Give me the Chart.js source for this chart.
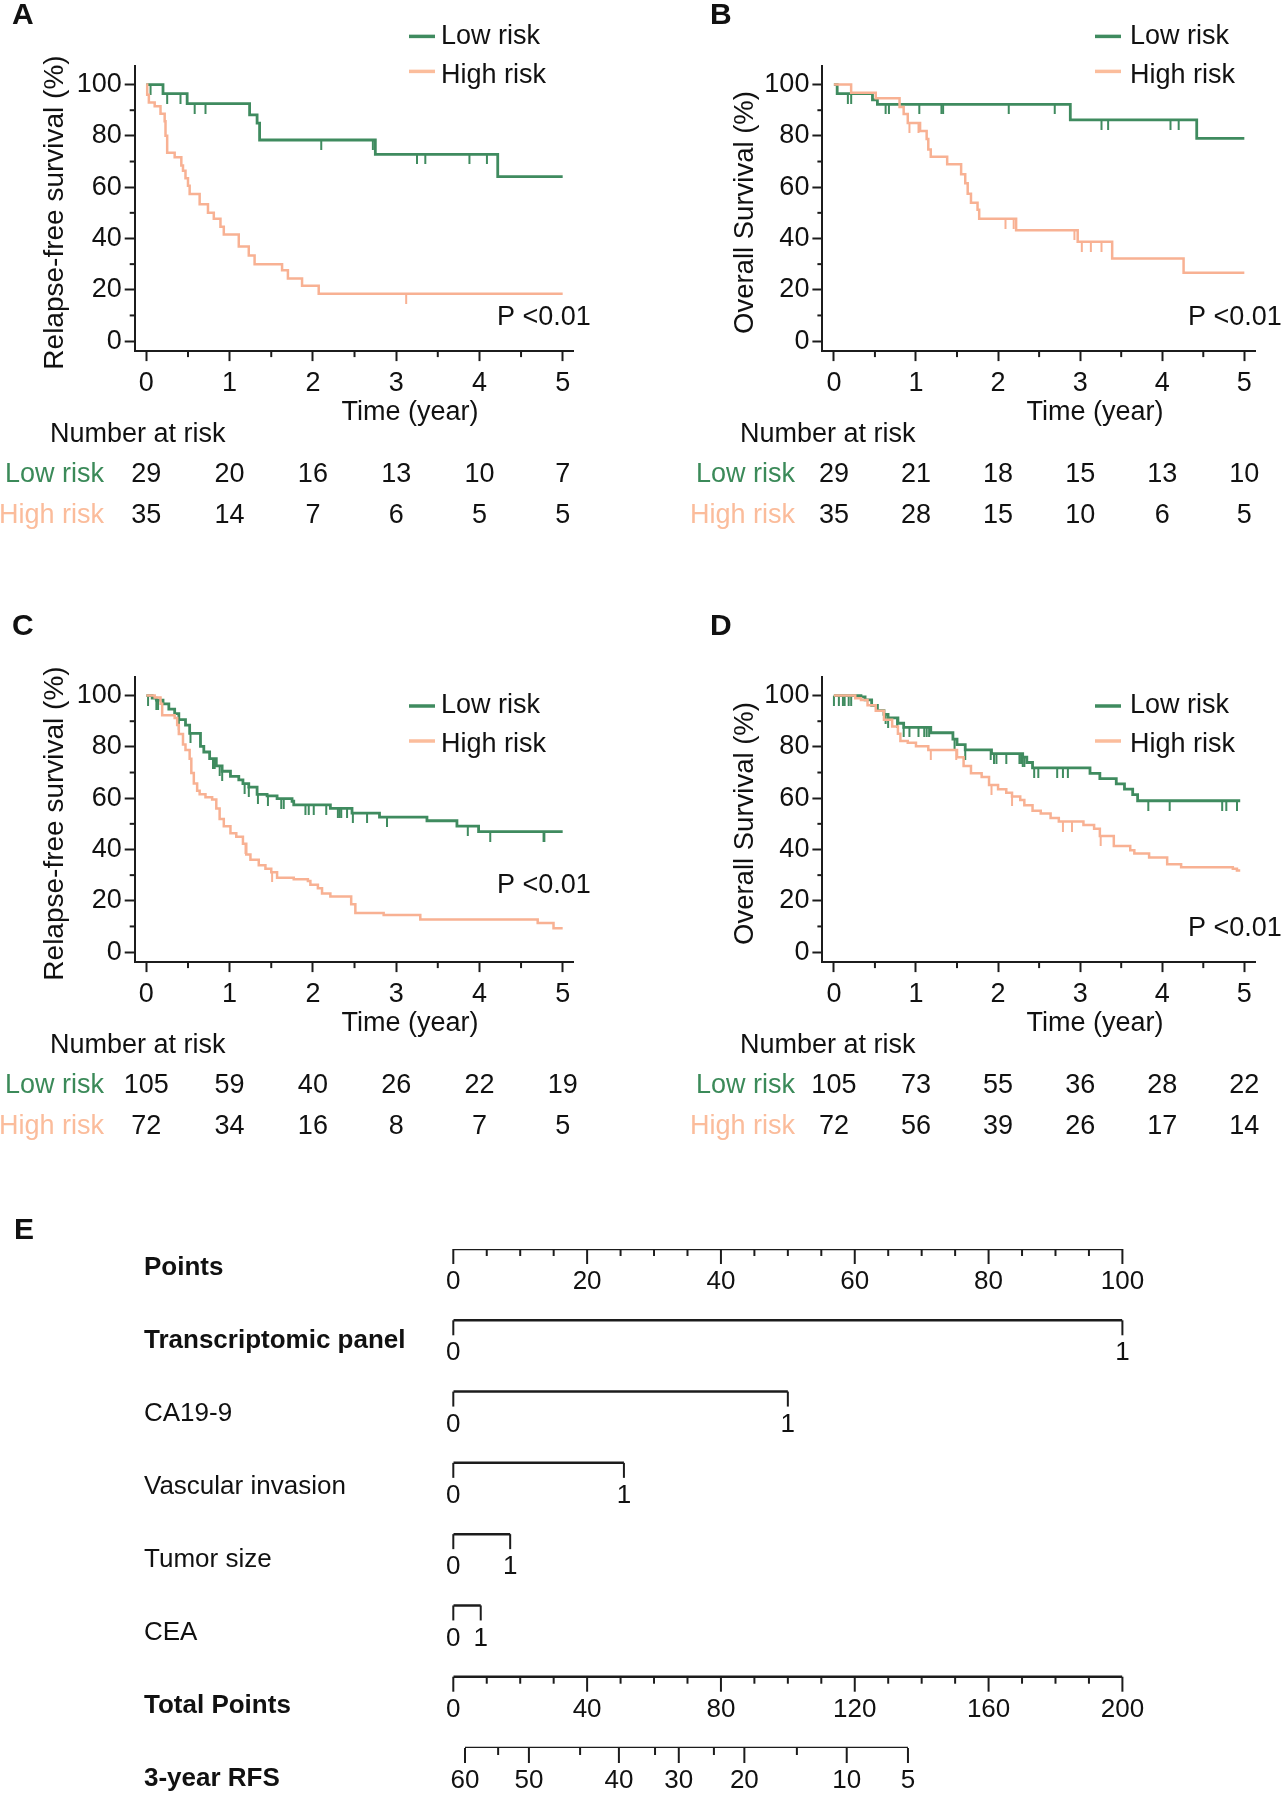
<!DOCTYPE html>
<html><head><meta charset="utf-8">
<script src="https://cdn.jsdelivr.net/npm/chart.js@4.4.1/dist/chart.umd.min.js"></script>
<style>
body{margin:0;background:#fff;width:1288px;height:1800px;position:relative;overflow:hidden}
canvas{position:absolute}
</style></head><body>
<canvas id="cA" width="640" height="611" style="left:0;top:0"></canvas>
<canvas id="cB" width="648" height="611" style="left:640px;top:0"></canvas>
<canvas id="cC" width="640" height="600" style="left:0;top:611px"></canvas>
<canvas id="cD" width="648" height="600" style="left:640px;top:611px"></canvas>
<canvas id="cE" width="1288" height="588" style="left:0;top:1212px"></canvas>
<script>
// ---------------- DATA ----------------
const xMajor = [0, 1, 2, 3, 4, 5];
const xMinor = [0.5, 1.5, 2.5, 3.5, 4.5];
const yMajor = [0, 20, 40, 60, 80, 100];
const yMinor = [10, 30, 50, 70, 90];
const riskTimes = [0, 1, 2, 3, 4, 5];
const seriesNames = ['Low risk', 'High risk'];

// Panel A: relapse-free survival
const aLowT  = [0, 0.2, 0.49, 1.24, 1.33, 1.36, 2.75, 4.22, 5.0];
const aLowS  = [100, 96.5, 92.6, 88.2, 85.0, 78.4, 72.8, 64.1, 64.1];
const aLowC  = [0.05, 0.25, 0.41, 0.58, 0.71, 2.1, 2.72, 3.25, 3.35, 3.88, 4.09];
const aHighT = [0, 0.01, 0.03, 0.1, 0.17, 0.22, 0.23, 0.25, 0.34, 0.42, 0.44, 0.47, 0.5, 0.52, 0.64, 0.74, 0.81, 0.89, 0.93, 1.11, 1.23, 1.3, 1.63, 1.7, 1.87, 2.07, 5.0];
const aHighS = [100, 96, 93, 91.5, 88.6, 85.7, 80, 73.4, 71.7, 68.5, 66.4, 63.5, 60.6, 57.3, 53.3, 50, 47.7, 44.6, 41.6, 36.9, 33.4, 30, 27.6, 24.4, 21.6, 18.5, 18.5];
const aHighC = [3.12];
const aRiskLow  = [29, 20, 16, 13, 10, 7];
const aRiskHigh = [35, 14, 7, 6, 5, 5];

// Panel B: overall survival
const bLowT  = [0, 0.04, 0.47, 0.53, 2.88, 4.42, 5.0];
const bLowS  = [100, 96.5, 94.0, 92.3, 86.2, 79.0, 79.0];
const bLowC  = [0.17, 0.21, 0.63, 0.67, 1.04, 1.31, 1.33, 2.13, 2.69, 3.26, 3.34, 4.1, 4.2];
const bHighT = [0, 0.21, 0.51, 0.8, 0.85, 0.9, 1.05, 1.13, 1.15, 1.18, 1.38, 1.55, 1.6, 1.63, 1.67, 1.75, 1.77, 2.22, 2.97, 3.39, 4.26, 5.0];
const bHighS = [100, 96.8, 94.7, 91.3, 88.5, 85.0, 81.9, 78.8, 74.7, 71.9, 68.9, 65.0, 61.5, 57.4, 53.9, 51.2, 47.7, 43.2, 38.7, 32.2, 26.6, 26.6];
const bHighC = [0.92, 1.03, 2.09, 2.19, 2.93, 3.02, 3.13, 3.26];
const bRiskLow  = [29, 21, 18, 15, 13, 10];
const bRiskHigh = [35, 28, 15, 10, 6, 5];

// Panel C: relapse-free survival
const cLowT  = [0, 0.07, 0.12, 0.2, 0.27, 0.34, 0.39, 0.47, 0.52, 0.65, 0.69, 0.76, 0.84, 0.91, 1.01, 1.11, 1.16, 1.23, 1.33, 1.45, 1.57, 1.75, 1.77, 2.21, 2.47, 2.8, 3.37, 3.73, 3.99, 5.0];
const cLowS  = [100, 99, 98.2, 96.8, 94.7, 93, 90.6, 88.5, 85.3, 80.2, 78, 75.4, 72.6, 70.5, 68.5, 67.1, 65.7, 64.3, 61.5, 60.9, 59.8, 58.8, 57.4, 56, 54.2, 52.6, 51.2, 49.1, 47.0, 47.0];
const cLowC  = [0.02, 0.12, 0.14, 0.39, 0.53, 0.8, 0.82, 0.88, 0.91, 1.18, 1.23, 1.34, 1.46, 1.62, 1.65, 1.91, 1.95, 2.01, 2.16, 2.3, 2.32, 2.34, 2.41, 2.48, 2.65, 2.89, 3.86, 4.13, 4.77, 4.78];
const cHighT = [0, 0.1, 0.17, 0.19, 0.34, 0.37, 0.39, 0.44, 0.47, 0.52, 0.54, 0.57, 0.61, 0.64, 0.71, 0.79, 0.84, 0.88, 0.93, 1.01, 1.08, 1.16, 1.2, 1.25, 1.35, 1.43, 1.5, 1.57, 1.77, 1.94, 1.97, 2.06, 2.11, 2.21, 2.46, 2.51, 2.85, 3.29, 4.7, 4.89, 5.0];
const cHighS = [100, 99.2, 96.8, 92.3, 91.3, 88.5, 85.0, 80.9, 78.8, 75.4, 69.8, 65.7, 62.9, 61.5, 60.4, 59.5, 56.0, 51.9, 49.1, 46.3, 45.0, 42.2, 38.0, 36.0, 33.9, 32.5, 31.1, 29.0, 28.4, 27.7, 26.3, 24.9, 22.8, 21.7, 18.7, 15.2, 14.5, 12.7, 11.3, 9.3, 9.3];
const cHighC = [1.19, 1.51];
const cRiskLow  = [105, 59, 40, 26, 22, 19];
const cRiskHigh = [72, 34, 16, 8, 7, 5];

// Panel D: overall survival
const dLowT  = [0, 0.33, 0.38, 0.46, 0.53, 0.61, 0.66, 0.78, 0.85, 1.18, 1.45, 1.5, 1.6, 1.92, 2.3, 2.35, 2.42, 3.12, 3.24, 3.44, 3.54, 3.64, 3.7, 4.95];
const dLowS  = [100, 99.5, 98.3, 96.2, 94.1, 92.7, 91.3, 89.2, 87.6, 85.5, 83, 80.9, 78.8, 77.4, 76, 73.9, 71.8, 69.7, 67.6, 65.6, 63.5, 61.4, 59.0, 59.0];
const dLowC  = [0.0, 0.06, 0.11, 0.13, 0.18, 0.21, 0.63, 0.66, 0.77, 0.85, 0.92, 1.03, 1.1, 1.13, 1.16, 1.47, 1.6, 1.91, 1.95, 1.98, 2.1, 2.26, 2.28, 2.3, 2.32, 2.44, 2.49, 2.72, 2.79, 2.85, 3.83, 4.09, 4.73, 4.78, 4.91];
const dHighT = [0, 0.26, 0.33, 0.41, 0.51, 0.61, 0.71, 0.78, 0.81, 0.9, 1.0, 1.15, 1.5, 1.58, 1.67, 1.8, 1.89, 2.0, 2.1, 2.17, 2.27, 2.32, 2.42, 2.52, 2.64, 2.74, 3.04, 3.17, 3.24, 3.41, 3.61, 3.66, 3.84, 4.06, 4.23, 4.86, 4.91, 4.95];
const dHighS = [100, 99, 98.3, 96.2, 94.1, 90.6, 87.9, 85.1, 82.3, 81.6, 80.2, 78.8, 76, 72.5, 69.7, 68.3, 65.1, 63.5, 62.1, 60.7, 59.3, 57.2, 55.1, 54, 52.3, 50.9, 49.5, 48.1, 45.3, 41.4, 39.7, 38.4, 36.9, 34.2, 33.1, 32.5, 31.8, 31.8];
const dHighC = [1.18, 1.49, 1.92, 2.17, 2.79, 2.9, 3.25];
const dRiskLow  = [105, 73, 55, 36, 28, 22];
const dRiskHigh = [72, 56, 39, 26, 17, 14];

// Panel E: nomogram
const nomoVars     = ['Transcriptomic panel', 'CA19-9', 'Vascular invasion', 'Tumor size', 'CEA'];
const nomoVarBold  = [true, false, false, false, false];
const nomoMaxPts   = [100, 50, 25.5, 8.5, 4.1];
const nomoLevels   = ['0', '1'];
const pointsMajor  = [0, 20, 40, 60, 80, 100];
const pointsMinor  = [5, 10, 15, 25, 30, 35, 45, 50, 55, 65, 70, 75, 85, 90, 95];
const totalMajor   = [0, 40, 80, 120, 160, 200];
const totalMinor   = [10, 20, 30, 50, 60, 70, 90, 100, 110, 130, 140, 150, 170, 180, 190];
const rfsLabels    = [60, 55, 50, 45, 40, 35, 30, 25, 20, 15, 10, 5];
const rfsTotalPts  = [3.5, 13.4, 22.6, 37.9, 49.5, 60.3, 67.4, 77.9, 87.0, 102.7, 117.6, 135.9];
const rfsMajor     = [60, 50, 40, 30, 20, 10, 5];

// ---------------- STYLE / LAYOUT ----------------
const FONT = '"Liberation Sans", Arial, Helvetica, sans-serif';
Chart.defaults.font.family = FONT;
const GREEN = '#3f8b5f', GREEN_TXT = '#3b8a59', SAL_LINE = '#f8b193', SAL_LEG = '#fbbd9c', SAL_TXT = '#fbbc9b', AX = '#1c1c1c', TXT = '#111';

const GL = {left:134.7, right:573.5, top:66.1, bottom:351.1, letterX:12, titleX:55, timeX:410, narX:50, rowR:104, legLineX:409, legTextX:441, pX:497};
const GR = {left:182.4, right:615, top:66.1, bottom:351.1, letterX:70, titleX:105, timeX:455, narX:100, rowR:155, legLineX:455, legTextX:490, pX:548};
const V = {letterY:16, titleY:212.5, timeY:412.5, narY:434.6, rowY:[475, 515.4]};

function stepXY(t, s) { return t.map((v, i) => ({x: v, y: s[i]})); }
function censXY(t, s, c) {
  return c.map(v => { let y = s[0]; for (let i = 0; i < t.length; i++) { if (t[i] <= v) y = s[i]; } return {x: v, y: y}; });
}
function censImg(color) {
  const c = document.createElement('canvas'); c.width = 4; c.height = 20;
  const g = c.getContext('2d'); g.strokeStyle = color; g.lineWidth = 2;
  g.beginPath(); g.moveTo(2, 10); g.lineTo(2, 20); g.stroke(); return c;
}

function km(id, P) {
  const el = document.getElementById(id), W = el.width, H = el.height, G = P.g;
  const decor = {id: 'decor', afterDraw(ch) {
    const c = ch.ctx, xs = ch.scales.x, ys = ch.scales.y;
    c.save();
    c.strokeStyle = AX; c.lineWidth = 2;
    xMinor.forEach(v => { const px = xs.getPixelForValue(v); c.beginPath(); c.moveTo(px, G.bottom); c.lineTo(px, G.bottom + 6); c.stroke(); });
    yMinor.forEach(v => { const py = ys.getPixelForValue(v); c.beginPath(); c.moveTo(G.left, py); c.lineTo(G.left - 5, py); c.stroke(); });
    c.fillStyle = TXT; c.textBaseline = 'middle';
    c.font = 'bold 30px ' + FONT; c.textAlign = 'left'; c.fillText(P.letter, G.letterX, V.letterY);
    c.save(); c.translate(G.titleX, V.titleY); c.rotate(-Math.PI / 2); c.textAlign = 'center';
    c.font = P.titleSize + 'px ' + FONT; c.fillText(P.ytitle, 0, 0); c.restore();
    c.font = '27px ' + FONT;
    c.textAlign = 'center'; c.fillText('Time (year)', G.timeX, V.timeY);
    c.textAlign = 'left'; c.fillText('Number at risk', G.narX, V.narY);
    c.fillText('P <0.01', G.pX, P.pY);
    // legend
    const legCols = [GREEN, SAL_LEG];
    seriesNames.forEach((n, i) => {
      const ly = P.legY[i];
      c.strokeStyle = legCols[i]; c.lineWidth = 3.5;
      c.beginPath(); c.moveTo(G.legLineX, ly); c.lineTo(G.legLineX + 26, ly); c.stroke();
      c.fillStyle = TXT; c.textAlign = 'left'; c.fillText(n, G.legTextX, ly + (i === 1 ? 4 : 0));
    });
    // number at risk
    c.textAlign = 'right';
    c.fillStyle = GREEN_TXT; c.fillText(seriesNames[0], G.rowR, V.rowY[0]);
    c.fillStyle = SAL_TXT; c.fillText(seriesNames[1], G.rowR, V.rowY[1]);
    c.fillStyle = TXT; c.textAlign = 'center';
    riskTimes.forEach((t, i) => {
      const px = xs.getPixelForValue(t);
      c.fillText(String(P.lowN[i]), px, V.rowY[0]);
      c.fillText(String(P.highN[i]), px, V.rowY[1]);
    });
    c.restore();
  }};
  new Chart(el, {
    type: 'line',
    data: {datasets: [
      {label: seriesNames[1], data: stepXY(P.highT, P.highS), stepped: true, borderColor: SAL_LINE, borderWidth: 2.5, pointRadius: 0, fill: false},
      {label: seriesNames[0], data: stepXY(P.lowT, P.lowS), stepped: true, borderColor: GREEN, borderWidth: 2.8, pointRadius: 0, fill: false},
      {label: 'cens-high', type: 'scatter', data: censXY(P.highT, P.highS, P.highC), pointStyle: censImg(SAL_LINE), pointRadius: 3, showLine: false},
      {label: 'cens-low', type: 'scatter', data: censXY(P.lowT, P.lowS, P.lowC), pointStyle: censImg(GREEN), pointRadius: 3, showLine: false}
    ]},
    options: {
      responsive: false, animation: false,
      layout: {padding: {left: 0, top: G.top, right: W - G.right, bottom: 0}},
      plugins: {legend: {display: false}, tooltip: {enabled: false}},
      scales: {
        x: {type: 'linear', min: -0.14, max: 5.13,
          afterBuildTicks: s => { s.ticks = xMajor.map(v => ({value: v})); },
          afterFit: s => { s.height = H - G.bottom; },
          ticks: {autoSkip: false, maxRotation: 0, padding: 6, color: TXT, font: {size: 27}},
          grid: {drawOnChartArea: false, tickLength: 10, tickWidth: 2, tickColor: AX},
          border: {display: true, color: AX, width: 2}},
        y: {type: 'linear', min: -3.9, max: 107.2,
          afterBuildTicks: s => { s.ticks = yMajor.map(v => ({value: v})); },
          afterFit: s => { s.width = G.left; },
          ticks: {padding: 3, color: TXT, font: {size: 27}},
          grid: {drawOnChartArea: false, tickLength: 10, tickWidth: 2, tickColor: AX},
          border: {display: true, color: AX, width: 2}}
      }
    },
    plugins: [decor]
  });
}

km('cA', {g: GL, letter: 'A', ytitle: 'Relapse-free survival (%)', titleSize: 28, pY: 318, legY: [36.4, 71.4],
  lowT: aLowT, lowS: aLowS, lowC: aLowC, highT: aHighT, highS: aHighS, highC: aHighC, lowN: aRiskLow, highN: aRiskHigh});
km('cB', {g: GR, letter: 'B', ytitle: 'Overall Survival (%)', titleSize: 27.5, pY: 318, legY: [36.4, 71.4],
  lowT: bLowT, lowS: bLowS, lowC: bLowC, highT: bHighT, highS: bHighS, highC: bHighC, lowN: bRiskLow, highN: bRiskHigh});
km('cC', {g: GL, letter: 'C', ytitle: 'Relapse-free survival (%)', titleSize: 28, pY: 274.7, legY: [95, 130],
  lowT: cLowT, lowS: cLowS, lowC: cLowC, highT: cHighT, highS: cHighS, highC: cHighC, lowN: cRiskLow, highN: cRiskHigh});
km('cD', {g: GR, letter: 'D', ytitle: 'Overall Survival (%)', titleSize: 27.5, pY: 317.6, legY: [95, 130],
  lowT: dLowT, lowS: dLowS, lowC: dLowC, highT: dHighT, highS: dHighS, highC: dHighC, lowN: dRiskLow, highN: dRiskHigh});

// ---------------- NOMOGRAM ----------------
(function () {
  const el = document.getElementById('cE'), W = el.width, H = el.height;
  const rowLabels = ['Points'].concat(nomoVars, ['Total Points', '3-year RFS']);
  const rowBold = [true].concat(nomoVarBold, [true, true]);
  const ds = [];
  const lineDs = (data, axis) => ({data: data, xAxisID: axis, borderColor: AX, borderWidth: 2.5, pointRadius: 0, fill: false});
  ds.push(lineDs([{x: pointsMajor[0], y: 0}, {x: pointsMajor[pointsMajor.length - 1], y: 0}], 'x'));
  nomoMaxPts.forEach((m, i) => ds.push(lineDs([{x: 0, y: i + 1}, {x: m, y: i + 1}], 'x')));
  const rT = nomoVars.length + 1, rR = nomoVars.length + 2;
  ds.push(lineDs([{x: totalMajor[0], y: rT}, {x: totalMajor[totalMajor.length - 1], y: rT}], 'x2'));
  ds.push(lineDs([{x: rfsTotalPts[0], y: rR}, {x: rfsTotalPts[rfsTotalPts.length - 1], y: rR}], 'x2'));

  const nomo = {id: 'nomo', afterDraw(ch) {
    const c = ch.ctx, x1 = ch.scales.x, x2 = ch.scales.x2, ys = ch.scales.y;
    c.save(); c.strokeStyle = AX; c.lineWidth = 2; c.fillStyle = TXT; c.textBaseline = 'middle';
    const tick = (px, py, len) => { c.beginPath(); c.moveTo(px, py); c.lineTo(px, py + len); c.stroke(); };
    c.font = 'bold 30px ' + FONT; c.textAlign = 'left'; c.fillText('E', 14, 19);
    rowLabels.forEach((l, i) => {
      c.font = (rowBold[i] ? 'bold ' : '') + '26px ' + FONT; c.textAlign = 'left';
      c.fillText(l, 144, ys.getPixelForValue(i) + 19 + 1.7 * i);
    });
    c.font = '26px ' + FONT; c.textAlign = 'center';
    let py = ys.getPixelForValue(0);
    pointsMinor.forEach(v => tick(x1.getPixelForValue(v), py, 7));
    pointsMajor.forEach(v => { const px = x1.getPixelForValue(v); tick(px, py, 15); c.fillText(String(v), px, py + 33); });
    nomoMaxPts.forEach((m, i) => {
      const y = ys.getPixelForValue(i + 1);
      [0, m].forEach((v, k) => { const px = x1.getPixelForValue(v); tick(px, y, 15); c.fillText(nomoLevels[k], px, y + 33); });
    });
    py = ys.getPixelForValue(rT);
    totalMinor.forEach(v => tick(x2.getPixelForValue(v), py, 7));
    totalMajor.forEach(v => { const px = x2.getPixelForValue(v); tick(px, py, 15); c.fillText(String(v), px, py + 33); });
    py = ys.getPixelForValue(rR);
    rfsLabels.forEach((lab, i) => {
      const px = x2.getPixelForValue(rfsTotalPts[i]);
      if (rfsMajor.includes(lab)) { tick(px, py, 15); c.fillText(String(lab), px, py + 33); }
      else tick(px, py, 7);
    });
    c.restore();
  }};

  new Chart(el, {
    type: 'line',
    data: {datasets: ds},
    options: {
      responsive: false, animation: false,
      layout: {padding: {left: 453.3, right: W - 1122.4, top: 37, bottom: H - 536}},
      plugins: {legend: {display: false}, tooltip: {enabled: false}},
      scales: {
        x: {type: 'linear', min: 0, max: 100, display: false},
        x2: {type: 'linear', min: 0, max: 200, display: false, position: 'bottom'},
        y: {type: 'linear', min: 0, max: 7, reverse: true, display: false}
      }
    },
    plugins: [nomo]
  });
})();
</script>
</body></html>
